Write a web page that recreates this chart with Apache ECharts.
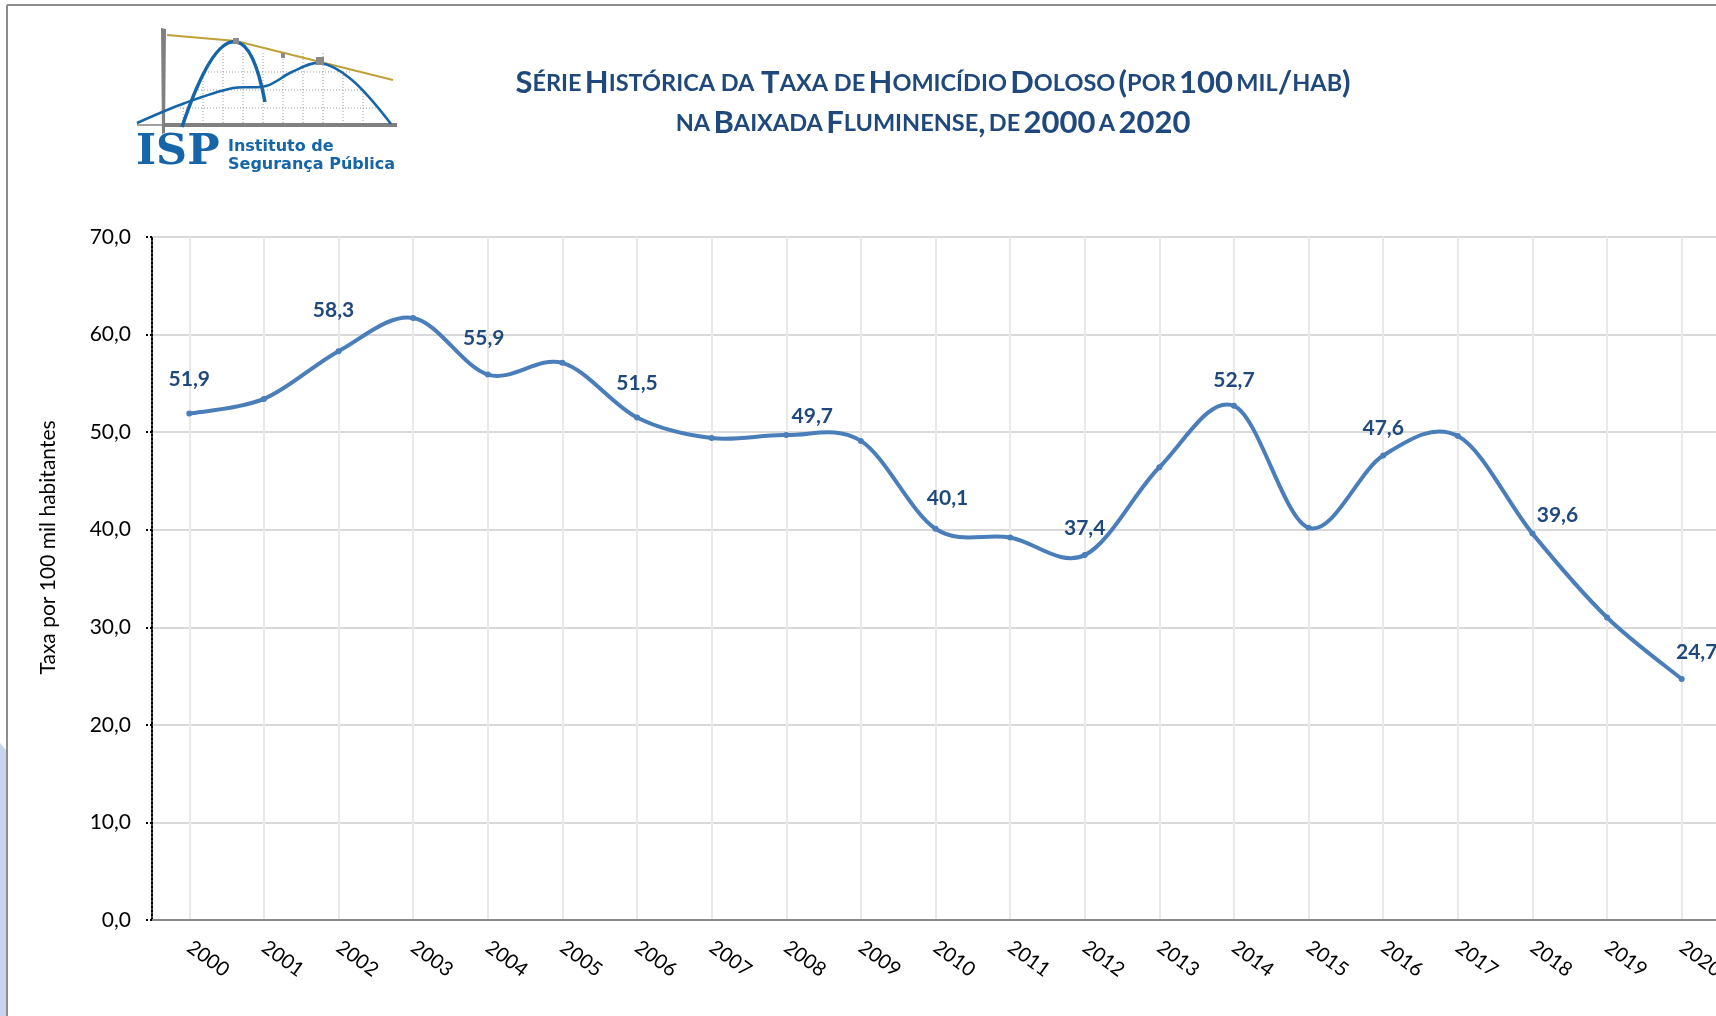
<!DOCTYPE html>
<html lang="pt-BR">
<head>
    <meta charset="UTF-8">
    <title>Taxa de Homicídio Doloso - Baixada Fluminense</title>
    <script src="https://cdn.jsdelivr.net/npm/echarts@6/dist/echarts.min.js"></script>
    <style>
        html, body {
            margin: 0;
            padding: 0;
            background: #fff;
            overflow: hidden;
        }
        #chart {
            width: 1716px;
            height: 1016px;
        }
    </style>
</head>
<body>
<div id="chart"></div>
<script>
    // Anos e taxas (por 100 mil hab)
    const years = ['2000', '2001', '2002', '2003', '2004', '2005', '2006', '2007', '2008', '2009', '2010',
        '2011', '2012', '2013', '2014', '2015', '2016', '2017', '2018', '2019', '2020'];
    const rates = [51.9, 53.4, 58.3, 61.7, 55.9, 57.1, 51.5, 49.4, 49.7, 49.1, 40.1,
        39.2, 37.4, 46.4, 52.7, 40.2, 47.6, 49.6, 39.6, 31.0, 24.7];
    // only the even years carry a value label
    const labelledYears = ['2000', '2002', '2004', '2006', '2008', '2010', '2012', '2014', '2016', '2018', '2020'];
    const yTicks = [0, 10, 20, 30, 40, 50, 60, 70];

    // small hand tweaks for label placement (like the original sheet)
    const labelNudge = {
        '2000': [0, -5], '2002': [-5, -11], '2004': [-4, -7], '2006': [0, -5],
        '2008': [26, 11], '2010': [12, -1], '2012': [0, 3], '2014': [0, 4],
        '2016': [0, 2], '2018': [25, 11], '2020': [15, 3]
    };

    const BLUE = '#4a7ebb';
    const NAVY = '#1f497d';
    const LOGO_BLUE = '#1565a8';
    const FONT = 'Lato, "Open Sans", sans-serif';

    const fmt = v => Number(v).toFixed(1).replace('.', ',');

    const chart = echarts.init(document.getElementById('chart'));

    // --- decorative logo (ISP) drawn as graphic elements ---
    const logoGrid = [];
    [[183, 108], [203, 72], [223, 53], [243, 53], [263, 53], [283, 53], [303, 53], [323, 53], [343, 72], [363, 90]]
        .forEach(function (p) {
            logoGrid.push({
                type: 'line', shape: {x1: p[0], y1: p[1], x2: p[0], y2: 125},
                style: {stroke: '#9a9a9a', lineWidth: 1, lineDash: [1, 2]}
            });
        });
    [[72, 205, 350], [90, 195, 365], [108, 180, 378]].forEach(function (h) {
        logoGrid.push({
            type: 'line', shape: {x1: h[1], y1: h[0], x2: h[2], y2: h[0]},
            style: {stroke: '#9a9a9a', lineWidth: 1, lineDash: [1, 2]}
        });
    });

    const logo = [].concat(logoGrid, [
        {type: 'line', shape: {x1: 137, y1: 125, x2: 397, y2: 125}, style: {stroke: '#808080', lineWidth: 1.5}},
        {type: 'rect', shape: {x: 163, y: 123, width: 234, height: 4}, style: {fill: '#808080'}},
        {type: 'polygon', shape: {points: [[161, 28], [166, 29], [165, 133], [162, 134]]}, style: {fill: '#808080'}},
        {type: 'polyline', shape: {points: [[167, 35], [236, 41], [393, 80]]}, style: {stroke: '#bfa038', lineWidth: 2}},
        {
            type: 'polyline',
            shape: {points: [[137, 123], [185, 103], [233, 88], [266, 86], [292, 72], [320, 63], [352, 80], [391, 124]], smooth: 0.35},
            style: {stroke: LOGO_BLUE, lineWidth: 2.5, fill: null}
        },
        {type: 'bezierCurve', shape: {x1: 182, y1: 127, cpx1: 212, cpy1: 38, x2: 236, y2: 42}, style: {stroke: LOGO_BLUE, lineWidth: 3.5, fill: null}},
        {type: 'bezierCurve', shape: {x1: 236, y1: 42, cpx1: 254, cpy1: 44, x2: 265, y2: 102}, style: {stroke: LOGO_BLUE, lineWidth: 3.5, fill: null}},
        {type: 'rect', shape: {x: 233, y: 38, width: 6, height: 6}, style: {fill: '#8a8a8a'}},
        {type: 'rect', shape: {x: 281, y: 53, width: 4, height: 5}, style: {fill: '#8a8a8a'}},
        {type: 'rect', shape: {x: 316, y: 57, width: 8, height: 8}, style: {fill: '#8a8a8a'}},
        {
            type: 'text', x: 136, y: 174,
            style: {text: 'ISP', fill: LOGO_BLUE, font: 'bold 43px "DejaVu Serif", serif', verticalAlign: 'bottom'}
        },
        {
            type: 'text', x: 228, y: 155,
            style: {text: 'Instituto de', fill: LOGO_BLUE, font: 'bold 16px "DejaVu Sans", sans-serif', verticalAlign: 'bottom'}
        },
        {
            type: 'text', x: 228, y: 173,
            style: {text: 'Segurança Pública', fill: LOGO_BLUE, font: 'bold 16px "DejaVu Sans", sans-serif', verticalAlign: 'bottom'}
        }
    ]);

    // title in small caps style via rich text
    const titleText =
        '{b|S}{s|ÉRIE} {b|H}{s|ISTÓRICA DA}  {b|T}{s|AXA DE} {b|H}{s|OMICÍDIO} {b|D}{s|OLOSO} {b|(}{s|POR} {b|100} {s|MIL}{b|/}{s|HAB}{b|)}\n' +
        '{s|NA} {b|B}{s|AIXADA} {b|F}{s|LUMINENSE}{b|,} {s|DE} {b|2000} {s|A} {b|2020}';

    // Excel-like smoothed segment (cardinal spline) between point i and i+1
    function renderSmooth(params, api) {
        const i = params.dataIndex;
        const n = rates.length;
        if (i >= n - 1) return null;
        const pt = k => api.coord([k, rates[k]]);
        const p0 = pt(Math.max(i - 1, 0));
        const p1 = pt(i);
        const p2 = pt(i + 1);
        const p3 = pt(Math.min(i + 2, n - 1));
        const t = 1 / 6;
        return {
            type: 'bezierCurve',
            shape: {
                x1: p1[0], y1: p1[1],
                cpx1: p1[0] + (p2[0] - p0[0]) * t, cpy1: p1[1] + (p2[1] - p0[1]) * t,
                cpx2: p2[0] - (p3[0] - p1[0]) * t, cpy2: p2[1] - (p3[1] - p1[1]) * t,
                x2: p2[0], y2: p2[1]
            },
            style: {stroke: BLUE, lineWidth: 4, fill: null, lineCap: 'round'}
        };
    }

    const option = {
        backgroundColor: '#fff',
        animation: false,
        graphic: [
            // slide frame
            {type: 'line', shape: {x1: 7, y1: 5, x2: 1716, y2: 5}, style: {stroke: '#8c8c8c', lineWidth: 2}},
            {type: 'line', shape: {x1: 7, y1: 5, x2: 7, y2: 1016}, style: {stroke: '#8c8c8c', lineWidth: 2}},
            {type: 'polygon', shape: {points: [[0, 743], [6, 750], [6, 1016], [0, 1016]]}, style: {fill: '#c6d4ec'}},
            {type: 'group', children: logo},
            {
                type: 'text', x: 933, y: 103,
                style: {
                    text: titleText,
                    align: 'center',
                    verticalAlign: 'middle',
                    fill: NAVY,
                    rich: {
                        b: {fontFamily: FONT, fontWeight: 'bold', fontSize: 31, color: NAVY, lineHeight: 40},
                        s: {fontFamily: FONT, fontWeight: 'bold', fontSize: 23.5, color: NAVY, lineHeight: 40}
                    }
                }
            }
        ],
        grid: {left: 152, top: 237, width: 1567, height: 683, containLabel: false, outerBoundsMode: 'none'},
        xAxis: {
            type: 'category',
            data: years,
            boundaryGap: true,
            axisLine: {lineStyle: {color: '#8a8a8a', width: 2}},
            axisTick: {show: false},
            splitLine: {show: true, alignWithLabel: true, lineStyle: {color: '#e9e9e9', width: 2}},
            axisLabel: {rotate: -36, margin: 25, fontSize: 20, color: '#000', fontFamily: FONT, interval: 0}
        },
        yAxis: {
            type: 'value',
            min: yTicks[0],
            max: yTicks[yTicks.length - 1],
            interval: yTicks[1] - yTicks[0],
            name: 'Taxa por 100 mil habitantes',
            nameLocation: 'middle',
            nameGap: 93,
            nameTextStyle: {fontSize: 21, color: '#000', fontFamily: FONT, padding: [0, 0, 0, 62]},
            axisLine: {show: true, lineStyle: {color: '#000', width: 2, type: [2, 2]}},
            axisTick: {show: true, length: 7, lineStyle: {color: '#000', width: 2, type: [2, 2]}},
            splitLine: {lineStyle: {color: '#d9d9d9', width: 2}},
            axisLabel: {formatter: fmt, fontSize: 21, color: '#000', margin: 21, fontFamily: FONT}
        },
        series: [{
            type: 'custom',
            renderItem: renderSmooth,
            clip: false,
            encode: {x: 0, y: 1},
            data: rates.map((v, i) => [i, v]),
            z: 2
        }, {
            type: 'line',
            symbol: 'circle',
            symbolSize: 6,
            lineStyle: {opacity: 0},
            itemStyle: {color: BLUE},
            z: 3,
            label: {
                position: 'top',
                distance: 16,
                color: NAVY,
                fontWeight: 'bold',
                fontSize: 21,
                fontFamily: FONT,
                formatter: p => fmt(p.value)
            },
            data: years.map(function (y, i) {
                return {
                    value: rates[i],
                    label: {show: labelledYears.indexOf(y) >= 0, offset: labelNudge[y] || [0, 0]}
                };
            })
        }]
    };

    chart.setOption(option);
</script>
</body>
</html>
